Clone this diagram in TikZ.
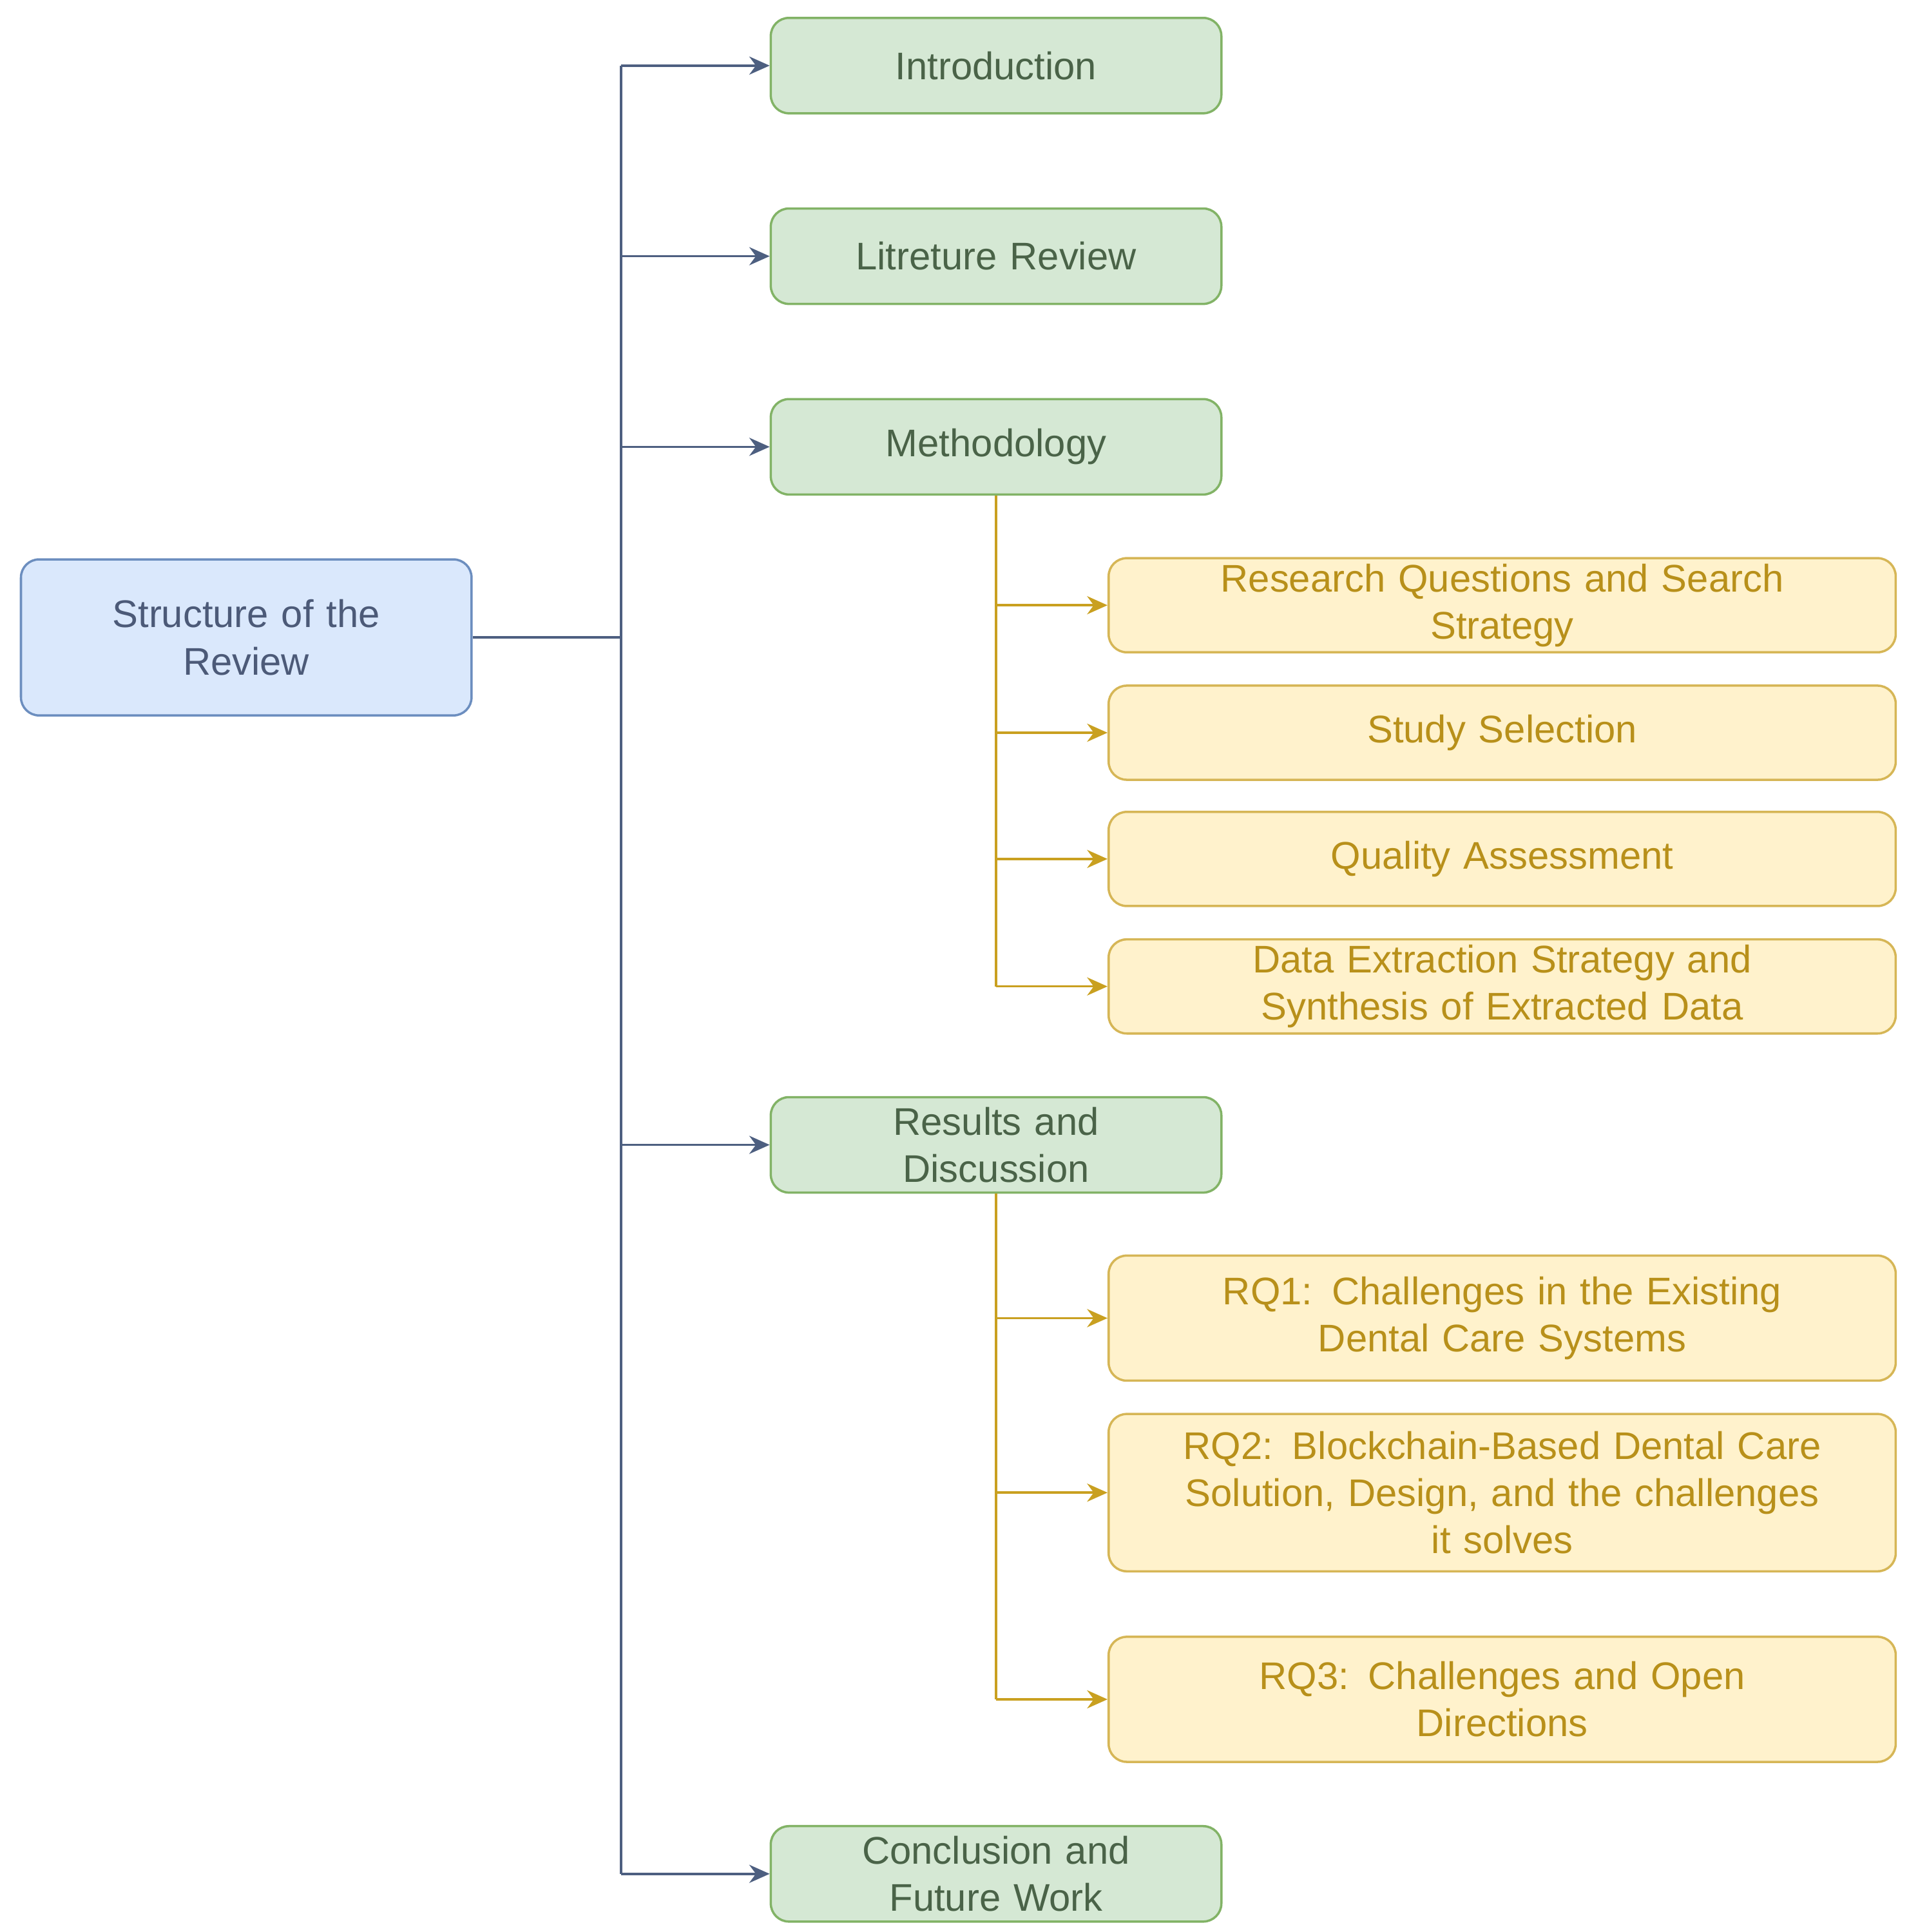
\documentclass[tikz,border=0pt]{standalone}
\usepackage{fontspec}
\setmainfont{Liberation Sans}
\usetikzlibrary{arrows.meta}
\definecolor{grfill}{HTML}{D5E8D4}\definecolor{grline}{HTML}{82B366}\definecolor{grtext}{HTML}{4A6348}
\definecolor{blfill}{HTML}{DAE8FC}\definecolor{blline}{HTML}{6C8EBF}\definecolor{bltext}{HTML}{4C5A78}
\definecolor{yefill}{HTML}{FFF2CC}\definecolor{yeline}{HTML}{D6B656}\definecolor{yetext}{HTML}{B8901A}
\definecolor{tline}{HTML}{4D5F80}\definecolor{yarrow}{HTML}{C9A020}
\tikzset{
  box/.style={draw, line width=1pt, rounded corners=8pt, align=center, inner sep=2pt,
    font=\fontsize{17}{20.8}\selectfont},
  sec/.style={box, fill=grfill, draw=grline, text=grtext, minimum width=6.99cm, minimum height=1.48cm, text width=6.6cm},
  top/.style={box, fill=blfill, draw=blline, text=bltext, minimum width=6.99cm, minimum height=2.42cm, text width=6.6cm},
  sub/.style={box, fill=yefill, draw=yeline, text=yetext, minimum width=12.21cm, minimum height=#1, text width=11.9cm},
  sub/.default=1.46cm,
  link/.style={line width=1pt, color=tline},
  slink/.style={line width=1pt, color=yarrow},
}
\begin{document}
\begin{tikzpicture}[x=0.0192cm, y=-0.0192cm]
	\useasboundingbox (0,0) rectangle (1550,1561);

	%root
	\node[top] (root) at (199,515) {Structure of the\\Review};

	%sections
	\node[sec] (intro) at (805,53) {Introduction};
	\node[sec] (lit) at (805,207) {Litreture Review};
	\node[sec] (meth) at (805,361) {Methodology};
	\node[sec] (res) at (805,925) {Results and\\Discussion};
	\node[sec] (concl) at (805,1514) {Conclusion and\\Future Work};

	%subsections
	\node[sub] (rqs) at (1214,489) {Research Questions and Search\\Strategy};
	\node[sub] (sel) at (1214,592) {Study Selection};
	\node[sub] (qual) at (1214,694) {Quality Assessment};
	\node[sub] (dat) at (1214,797) {Data Extraction Strategy and\\Synthesis of Extracted Data};
	\node[sub=1.94cm] (rq1) at (1214,1065) {RQ1: Challenges in the Existing\\Dental Care Systems};
	\node[sub=2.44cm] (rq2) at (1214,1206) {RQ2: Blockchain-Based Dental Care\\Solution, Design, and the challenges\\it solves};
	\node[sub=1.94cm] (rq3) at (1214,1373) {RQ3: Challenges and Open\\Directions};

	%connectors
	\coordinate (trunk) at (502,515);
	\draw[link] (root.east) -- (trunk);
	\draw[link] (trunk |- intro.west) -- (trunk |- concl.west);
	\foreach \n in {intro,lit,meth,res,concl}
		\draw[link, -{Stealth[length=9pt,width=8pt]}] (trunk |- \n.west) -- (\n.west);

	\draw[slink] (meth.south) -- (meth.south |- dat.west);
	\foreach \n in {rqs,sel,qual,dat}
		\draw[slink, -{Stealth[length=9pt,width=8pt]}] (meth.south |- \n.west) -- (\n.west);
	\draw[slink] (res.south) -- (res.south |- rq3.west);
	\foreach \n in {rq1,rq2,rq3}
		\draw[slink, -{Stealth[length=9pt,width=8pt]}] (res.south |- \n.west) -- (\n.west);
\end{tikzpicture}
\end{document}
